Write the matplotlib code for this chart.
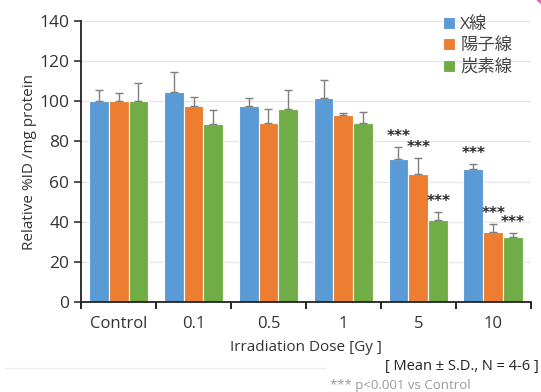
import numpy as np
import matplotlib.pyplot as plt
from matplotlib.patches import Arc

plt.rcParams['font.family'] = ['Open Sans', 'Noto Sans CJK JP', 'DejaVu Sans']

doses = ['Control', '0.1', '0.5', '1', '5', '10']
series = ['X線', '陽子線', '炭素線']
xray = [100, 104.6, 97.7, 101.6, 71.3, 66.3]
proton = [100, 97.7, 89, 93, 63.8, 34.9]
carbon = [100, 88.7, 96.2, 89.2, 40.9, 32.4]
xray_sd = [5.6, 10, 3.9, 9, 6.1, 2.5]
proton_sd = [4, 4.3, 7, 1, 7.9, 4]
carbon_sd = [9, 7, 9.4, 5.5, 3.9, 2]
# which bars get "***"
sig = {(0, 4), (1, 4), (2, 4), (0, 5), (1, 5), (2, 5)}

colors = ['#5B9BD5', '#ED7D31', '#70AD47']

fig = plt.figure(figsize=(5.41, 3.92), dpi=100)
ax = fig.add_axes([0.150, 0.2296, 0.831, 0.7168])

x = np.arange(len(doses))
w = 0.265
vals = [xray, proton, carbon]
sds = [xray_sd, proton_sd, carbon_sd]
for i in range(3):
    pos = x + (i - 1) * w
    ax.bar(pos, vals[i], w, color=colors[i], edgecolor='white', linewidth=0.8,
           label=series[i], zorder=2)
    ax.errorbar(pos, vals[i], yerr=[np.zeros(len(doses)), sds[i]], fmt='none',
                ecolor='#7f7f7f', elinewidth=1, capsize=3, capthick=1, zorder=3)
    for j in range(len(doses)):
        if (i, j) in sig:
            ax.text(pos[j], vals[i][j] + sds[i][j] + 1.5, '***', ha='center',
                    va='bottom', fontsize=11, fontweight='bold', color='#2a2a2a',
                    family='DejaVu Sans')

ax.set_xlim(-0.5, len(doses) - 0.5)
ax.set_ylim(0, 140)
ax.set_yticks(range(0, 141, 20))
ax.set_xticks(x)
ax.set_xticklabels(doses)
ax.set_xticks(np.arange(-0.5, len(doses)), minor=True)
ax.tick_params(axis='x', which='major', length=0, pad=10, labelsize=12,
               colors='#333333')
ax.tick_params(axis='x', which='minor', length=5, width=1.2, direction='out')
ax.tick_params(axis='y', length=5, width=1.2, labelsize=12.5, colors='#333333')
ax.grid(axis='y', color='#e6e6e6', linewidth=1, zorder=0)
for s in ['top', 'right']:
    ax.spines[s].set_visible(False)
for s in ['left', 'bottom']:
    ax.spines[s].set_linewidth(1.3)
    ax.spines[s].set_color('#222222')

ax.set_ylabel('Relative %ID /mg protein', fontsize=11, color='#333333', labelpad=2)
ax.set_xlabel('Irradiation Dose [Gy ]', fontsize=11, color='#333333', labelpad=6)

leg = ax.legend(loc='upper right', bbox_to_anchor=(0.975, 1.04), frameon=False,
                fontsize=12.5, handlelength=0.7, handleheight=0.7, handletextpad=0.3,
                labelspacing=0.3, borderaxespad=0)
for t in leg.get_texts():
    t.set_color('#444444')

fig.text(0.995, 0.065, '[ Mean ± S.D., N = 4-6 ]', ha='right', va='center',
         fontsize=10.5, color='#222222')
fig.text(0.61, 0.0, '*** p<0.001 vs Control', ha='left', va='bottom',
         fontsize=9.5, color='#999999')
fig.add_artist(plt.Line2D([0.01, 0.60], [0.061, 0.061], color='#eeeeee', lw=1))
fig.add_artist(Arc((1.03, 1.05), 0.1, 0.14, theta1=180, theta2=300,
                   color='#f05ab4', lw=2, transform=fig.transFigure))

fig.savefig('out.png', dpi=100)
